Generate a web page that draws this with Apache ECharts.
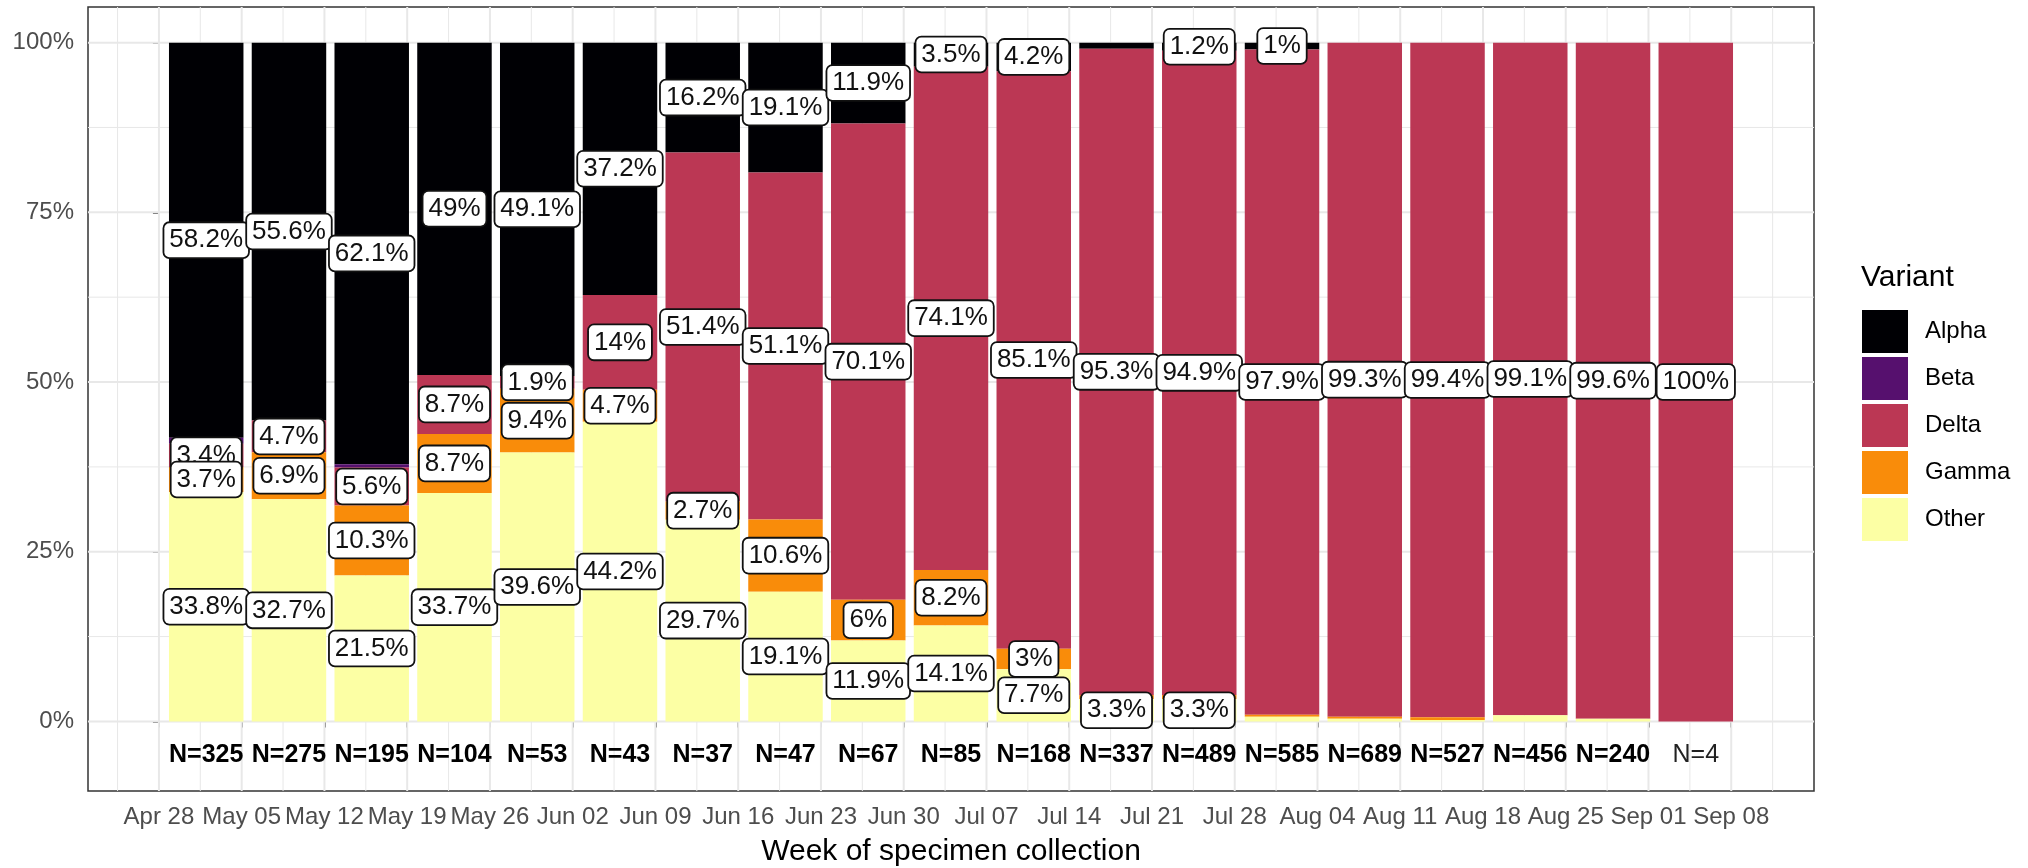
<!DOCTYPE html>
<html>
<head>
<meta charset="utf-8">
<script src="https://cdn.jsdelivr.net/npm/echarts@6/dist/echarts.min.js"></script>
<style>
html,body{margin:0;padding:0;background:#fff;}
#chart{width:2028px;height:868px;}
</style>
</head>
<body>
<div id="chart"></div>
<script>
// ---------- data ----------
const weekTickLabels = ['Apr 28','May 05','May 12','May 19','May 26','Jun 02','Jun 09','Jun 16','Jun 23','Jun 30','Jul 07','Jul 14','Jul 21','Jul 28','Aug 04','Aug 11','Aug 18','Aug 25','Sep 01','Sep 08'];
const weekTickDays = [0,7,14,21,28,35,42,49,56,63,70,77,84,91,98,105,112,119,126,133]; // days since Apr 28
const weekCenters = [4,11,18,25,32,39,46,53,60,67,74,81,88,95,102,109,116,123,130];   // collection weeks (days since Apr 28)
const sampleN = [325,275,195,104,53,43,37,47,67,85,168,337,489,585,689,527,456,240,4];
const variants = ['Alpha','Beta','Delta','Gamma','Other'];
const alpha = [58.2,55.6,62.1,49,49.1,37.2,16.2,19.1,11.9,3.5,4.2,0.9,1.2,1,0,0,0,0,0];
const beta  = [0.9,0,0.5,0,0,0,0,0,0,0,0,0,0,0,0,0,0,0,0];
const delta = [3.4,4.7,5.6,8.7,1.9,14,51.4,51.1,70.1,74.1,85.1,95.3,94.9,97.9,99.3,99.4,99.1,99.6,100];
const gamma = [3.7,6.9,10.3,8.7,9.4,4.7,2.7,10.6,6,8.2,3,0.6,0.6,0.3,0.3,0.4,0,0,0];
const other = [33.8,32.7,21.5,33.7,39.6,44.2,29.7,19.1,11.9,14.1,7.7,3.3,3.3,0.7,0.4,0.2,0.9,0.4,0];
const yTickValues = [0,25,50,75,100];
const yTickLabels = ['0%','25%','50%','75%','100%'];

// ---------- styling constants ----------
const FONT = "'Liberation Sans', Arial, sans-serif";
const colors = ['#000004','#56106e','#bb3754','#f98c0a','#fcffa4'];
const BAR_HALF = 3.15;      // half bar width in days (0.9 of a week)
const N_LABEL_Y = -5;       // y position of the N= labels
const X_MIN = -6, X_MAX = 140, Y_MIN = -10.25, Y_MAX = 105.25;

// ---------- build stacked segments (position = fill) ----------
const shares = [alpha, beta, delta, gamma, other];
const stackOrder = [4,3,2,1,0]; // bottom -> top
const segs = variants.map(() => []);
const mids = variants.map(() => []);
for (let i = 0; i < weekCenters.length; i++) {
  const total = shares.reduce((s, a) => s + a[i], 0);
  let base = 0;
  for (const v of stackOrder) {
    const h = shares[v][i] / total * 100;
    segs[v].push([weekCenters[i], base, base + h]);
    mids[v].push(base + h / 2);
    base += h;
  }
}
const labelData = [];
for (let i = 0; i < weekCenters.length; i++) {
  for (let v = 0; v < variants.length; v++) {
    if (Math.round(shares[v][i] * 10) / 10 >= 1) labelData.push([weekCenters[i], mids[v][i], shares[v][i]]);
  }
}
const nData = weekCenters.map((x, i) => [x, N_LABEL_Y, sampleN[i], shares.filter(a => a[i] > 0).length]);

// gridline positions (major at ticks, minor halfway between)
function minorOf(ticks, lo, hi) {
  const out = [];
  const step = ticks[1] - ticks[0];
  out.push(ticks[0] - step / 2);
  for (let i = 0; i < ticks.length - 1; i++) out.push((ticks[i] + ticks[i + 1]) / 2);
  out.push(ticks[ticks.length - 1] + step / 2);
  return out.filter(v => v > lo && v < hi);
}
const gridData = [];
weekTickDays.forEach(v => gridData.push([0, v, 1]));
minorOf(weekTickDays, X_MIN, X_MAX).forEach(v => gridData.push([0, v, 0]));
yTickValues.forEach(v => gridData.push([1, v, 1]));
minorOf(yTickValues, Y_MIN, Y_MAX).forEach(v => gridData.push([1, v, 0]));

const fmtPct = v => (Math.round(v * 10) / 10) + '%';

const chart = echarts.init(document.getElementById('chart'), null, {renderer: 'canvas'});
const series = [];
series.push({
  type: 'custom', name: 'grid', silent: true, z: 1, data: gridData,
  renderItem: (params, api) => {
    const cs = params.coordSys;
    const dir = api.value(0), v = api.value(1), major = api.value(2);
    const style = {stroke: '#e8e8e8', lineWidth: major ? 2 : 1};
    if (dir === 0) {
      const px = api.coord([v, 0])[0];
      return {type: 'line', shape: {x1: px, y1: cs.y, x2: px, y2: cs.y + cs.height}, style};
    }
    const py = api.coord([0, v])[1];
    return {type: 'line', shape: {x1: cs.x, y1: py, x2: cs.x + cs.width, y2: py}, style};
  }
});
variants.forEach((name, v) => {
  series.push({
    type: 'custom', name, silent: true, z: 2,
    itemStyle: {color: colors[v]},
    encode: {x: 0, y: [1, 2]},
    data: segs[v].filter(s => s[2] - s[1] > 0),
    renderItem: (params, api) => {
      const x = api.value(0), y0 = api.value(1), y1 = api.value(2);
      const a = api.coord([x - BAR_HALF, y1]);
      const b = api.coord([x + BAR_HALF, y0]);
      return {type: 'rect', shape: {x: a[0], y: a[1], width: b[0] - a[0], height: b[1] - a[1]},
              style: {fill: api.visual('color')}};
    }
  });
});
series.push({
  type: 'custom', name: 'labels', silent: true, z: 5, data: labelData, encode: {x: 0, y: 1},
  renderItem: (params, api) => {
    const p = api.coord([api.value(0), api.value(1)]);
    return {type: 'text', x: p[0], y: p[1], style: {
      text: fmtPct(api.value(2)), fontSize: 26, fontFamily: FONT, fill: '#111',
      align: 'center', verticalAlign: 'middle', lineHeight: 27,
      backgroundColor: '#fff', borderColor: '#111', borderWidth: 1.8, borderRadius: 5,
      padding: [4, 5, 3, 5]
    }};
  }
});
series.push({
  type: 'custom', name: 'nlabels', silent: true, z: 5, data: nData, encode: {x: 0, y: 1},
  renderItem: (params, api) => {
    const p = api.coord([api.value(0), api.value(1)]);
    const multi = api.value(3) > 1;
    return {type: 'text', x: p[0], y: p[1], style: {
      text: 'N=' + api.value(2), fontSize: 25, fontFamily: FONT,
      fontWeight: multi ? 'bold' : 'normal', fill: multi ? '#000' : '#222',
      align: 'center', verticalAlign: 'middle'
    }};
  }
});

chart.setOption({
  animation: false,
  backgroundColor: '#fff',
  title: {text: 'Variant', left: 1856, top: 258,
          textStyle: {fontSize: 30, fontWeight: 'normal', color: '#000', fontFamily: FONT}},
  legend: {
    data: variants, orient: 'vertical', left: 1857, top: 305, icon: 'rect',
    itemWidth: 46, itemHeight: 43, itemGap: 4, selectedMode: false,
    textStyle: {fontSize: 24, color: '#000', fontFamily: FONT, padding: [0, 0, 0, 12]}
  },
  grid: {left: 88, right: 214, top: 7, bottom: 77, show: true, borderColor: '#333333',
         borderWidth: 1.5, backgroundColor: '#fff', containLabel: false, outerBoundsMode: 'none'},
  xAxis: {
    type: 'value', min: X_MIN, max: X_MAX,
    name: 'Week of specimen collection', nameLocation: 'middle', nameGap: 46,
    nameTextStyle: {fontSize: 30, color: '#000', fontFamily: FONT},
    axisLine: {show: false},
    splitLine: {show: false},
    axisTick: {show: true, customValues: weekTickDays, length: 6, lineStyle: {color: '#333333', width: 1.5}},
    axisLabel: {customValues: weekTickDays, margin: 14, fontSize: 24, color: '#4d4d4d', fontFamily: FONT,
                formatter: v => weekTickLabels[weekTickDays.indexOf(v)]}
  },
  yAxis: {
    type: 'value', min: Y_MIN, max: Y_MAX,
    axisLine: {show: false},
    splitLine: {show: false},
    axisTick: {show: true, customValues: yTickValues, length: 6, lineStyle: {color: '#333333', width: 1.5}},
    axisLabel: {customValues: yTickValues, margin: 14, fontSize: 24, color: '#4d4d4d', fontFamily: FONT,
                formatter: v => yTickLabels[yTickValues.indexOf(v)]}
  },
  series
});
</script>
</body>
</html>
